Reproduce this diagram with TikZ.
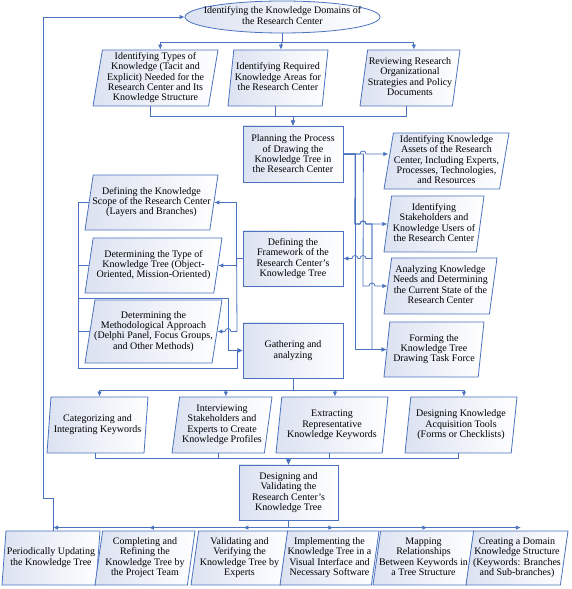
\documentclass[tikz,border=0pt]{standalone}
\usepackage{fontspec}
\setmainfont{Liberation Serif}
\usepackage{tikz}
\usetikzlibrary{shapes.geometric}
\usetikzlibrary{arrows.meta}
\usetikzlibrary{calc}
\definecolor{lineblue}{RGB}{74,114,190}
\definecolor{fillblue}{RGB}{220,226,241}
\newcommand{\ptxt}[1]{\makebox[0pt]{\begin{tabular}{@{}c@{}}#1\end{tabular}}}

\tikzset{
  box/.style={rectangle, draw=lineblue, line width=0.8pt, left color=fillblue, right color=white,
    minimum width=100pt, minimum height=56pt, inner sep=1pt, align=center, font=\fontsize{10}{10.3}\selectfont},
  para/.style={trapezium, trapezium left angle=80, trapezium right angle=100, trapezium stretches body,
    draw=lineblue, line width=0.8pt, left color=fillblue, right color=white,
    minimum height=56pt, inner sep=1pt, font=\fontsize{10}{10.3}\selectfont},
  lpara/.style={para, trapezium left angle=76, trapezium right angle=104},
  conn/.style={draw=lineblue, line width=0.8pt, -{Latex[length=5pt,width=4.5pt]}},
}

\begin{document}
\begin{tikzpicture}[x=1pt, y=1pt]
\useasboundingbox (0,0) rectangle (571,589);

% first level
\node[ellipse, draw=lineblue, line width=0.8pt, left color=fillblue, right color=white,
  minimum width=195pt, minimum height=32pt, inner sep=0pt, font=\fontsize{10}{10.3}\selectfont]
  (dom) at (282.5,572) {\ptxt{Identifying the Knowledge Domains of\\the Research Center}};

\node[para, minimum width=125pt] (p1) at (155.5,511) {\ptxt{Identifying Types of\\Knowledge (Tacit and\\Explicit) Needed for the\\Research Center and Its\\Knowledge Structure}};
\node[para, minimum width=100pt] (p2) at (278,511) {\ptxt{Identifying Required\\Knowledge Areas for\\the Research Center}};
\node[para, minimum width=100pt] (p3) at (410,511) {\ptxt{Reviewing Research\\Organizational\\Strategies and Policy\\Documents}};

% planning and framework
\node[box] (plan) at (293,435) {Planning the Process\\of Drawing the\\Knowledge Tree in\\the Research Center};
\node[box, minimum height=55pt] (fw) at (293,330.5) {Defining the\\Framework of the\\Research Center's\\Knowledge Tree};
\node[box, minimum height=55pt] (gat) at (293,238.5) {Gathering and\\analyzing};

\node[para, minimum width=125pt] (r1) at (446.5,428) {\ptxt{Identifying Knowledge\\Assets of the Research\\Center, Including Experts,\\Processes, Technologies,\\and Resources}};
\node[para, minimum width=100pt] (r2) at (434,365) {\ptxt{Identifying\\Stakeholders and\\Knowledge Users of\\the Research Center}};
\node[para, minimum width=113pt] (r3) at (440.5,303) {\ptxt{Analyzing Knowledge\\Needs and Determining\\the Current State of the\\Research Center}};
\node[para, minimum width=100pt, minimum height=55pt] (r4) at (434,239.5) {\ptxt{Forming the\\Knowledge Tree\\Drawing Task Force}};

\node[lpara, minimum width=133pt, minimum height=55pt] (l1) at (151.5,386.5) {\ptxt{Defining the Knowledge\\Scope of the Research Center\\(Layers and Branches)}};
\node[lpara, minimum width=137pt, minimum height=55pt] (l2) at (153.5,323.5) {\ptxt{Determining the Type of\\Knowledge Tree (Object-\\Oriented, Mission-Oriented)}};
\node[lpara, trapezium left angle=77, trapezium right angle=103, minimum width=137pt, minimum height=63pt] (l3) at (153.5,257.5) {\ptxt{Determining the\\Methodological Approach\\(Delphi Panel, Focus Groups,\\and Other Methods)}};

% acquisition row
\node[para, minimum width=101pt] (b1) at (97.5,164) {\ptxt{Categorizing and\\Integrating Keywords}};
\node[para, minimum width=100pt] (b2) at (222,164) {\ptxt{Interviewing\\Stakeholders and\\Experts to Create\\Knowledge Profiles}};
\node[para, minimum width=112pt] (b3) at (332,164) {\ptxt{Extracting\\Representative\\Knowledge Keywords}};
\node[para, minimum width=112pt] (b4) at (461,164) {\ptxt{Designing Knowledge\\Acquisition Tools\\(Forms or Checklists)}};

\node[box, minimum width=99pt, minimum height=55pt] (des) at (288.5,96.5) {Designing and\\Validating the\\Research Center's\\Knowledge Tree};

% last row
\node[para, minimum width=98pt, minimum height=54pt] (c1) at (51,31) {\ptxt{Periodically Updating\\the Knowledge Tree}};
\node[para, minimum width=100pt, minimum height=54pt] (c2) at (145,31) {\ptxt{Completing and\\Refining the\\Knowledge Tree by\\the Project Team}};
\node[para, minimum width=97pt, minimum height=54pt] (c3) at (239.5,31) {\ptxt{Validating and\\Verifying the\\Knowledge Tree by\\Experts}};
\node[para, minimum width=99pt, minimum height=54pt] (c4) at (329.5,31) {\ptxt{Implementing the\\Knowledge Tree in a\\Visual Interface and\\Necessary Software}};
\node[para, minimum width=101pt, minimum height=54pt] (c5) at (423.5,31) {\ptxt{Mapping\\Relationships\\Between Keywords in\\a Tree Structure}};
\node[para, minimum width=102pt, minimum height=54pt] (c6) at (517,31) {\ptxt{Creating a Domain\\Knowledge Structure\\(Keywords: Branches\\and Sub-branches)}};

% connectors
\foreach \n in {p1,p2,p3}
  \draw[conn] (dom.south) -- ++(0,-9) -| (\n.top side);
\foreach \n in {p1,p2,p3}
  \draw[conn] (\n.bottom side) -- ++(0,-10) -| (plan.north);

\draw[conn] (plan.east) -- (360,435) arc[start angle=180,end angle=0,radius=3] -- (plan.east -| r1.left side);
\draw[conn] (plan.east) -- ++(12,0) -- (355,365) -- (360,365) arc[start angle=180,end angle=0,radius=3] -- (r2.left side);
\draw[conn] (plan.east) -- ++(20,0) -- (363,303) -- (369,303) arc[start angle=180,end angle=0,radius=3] -- (r3.left side);
\draw[conn] (plan.east) -- ++(12,0) |- (r4.left side);
\draw[conn] (plan.east) -- ++(12,0) -- (355,365) -- (360,365) arc[start angle=180,end angle=0,radius=3] -- (372,365) |- (r4.left side);
\draw[conn] (plan.east) -- ++(12,0) -- (355,365) -- (360,365) arc[start angle=180,end angle=0,radius=3] -- (372,365)
  -- (372,330.5) -- (366,330.5) arc[start angle=0,end angle=180,radius=3]
  -- (358,330.5) arc[start angle=0,end angle=180,radius=3] -- (fw.east);

\draw[conn] (fw.west) -- ++(-6,0) |- (l1.right side);
\draw[conn] (fw.west) -- ++(-6,0) |- (l2.right side);
\draw[conn] (fw.west) -- ++(-6,0) -- (237,257.5) -- (231,257.5) arc[start angle=0,end angle=180,radius=3] -- (l3.right side);

\draw[conn] (l1.left side) -| (78,221) -- (237,221) |- (gat.west);
\draw[conn] (l2.left side) -| (78,291) -- (228,291) |- (gat.west);
\draw[conn] (l3.left side) -| (78,221) -- (237,221) |- (gat.west);

\foreach \n in {b1,b2,b3,b4}
  \draw[conn] (gat.south) -- ++(0,-12) -| (\n.top side);
\foreach \n in {b1,b2,b3,b4}
  \draw[conn] (\n.bottom side) -- ++(0,-5) -| (des.north);

\foreach \n in {c1,c2,c3,c4,c5,c6}
  \draw[conn] (des.south) |- ($(\n.top side)+(0,3)$);

% feedback loop
\draw[conn] (c1.top side) |- (43.5,91) |- (dom.west);
\end{tikzpicture}
\end{document}
